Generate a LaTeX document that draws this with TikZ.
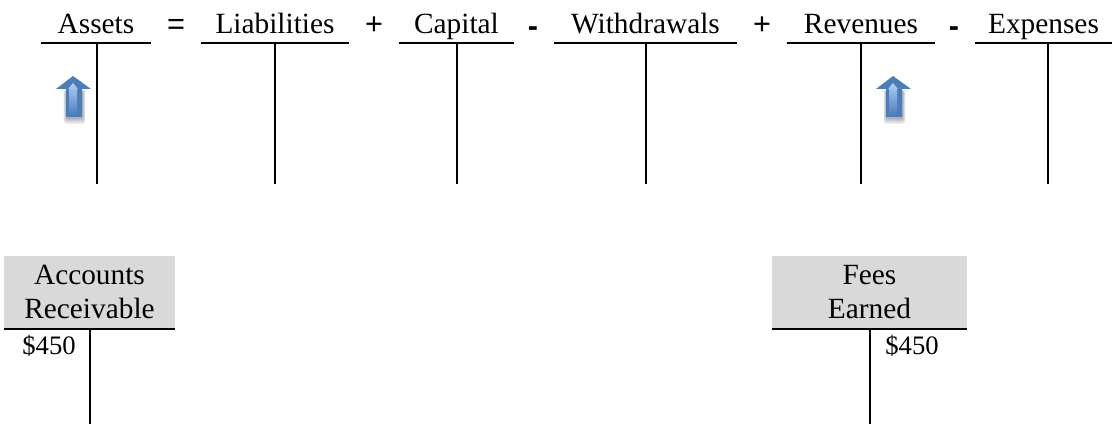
\documentclass[tikz,border=0pt]{standalone}
\usepackage{fontspec}
\setmainfont{Liberation Serif}
\newfontfamily\opfont{Liberation Sans}
\usetikzlibrary{arrows.meta, positioning, calc}
\definecolor{headgray}{HTML}{D9D9D9}
\definecolor{arrowblue}{HTML}{4A7EBB}
\definecolor{arrowlight}{HTML}{B4CDF0}
\newcommand{\incflag}[2]{%
  \foreach \g in {0,1,2,3,4} {
    \fill[black, opacity=.07, rounded corners=2] (#1-7-\g*.6,#2+14) rectangle (#1+10+\g*.6,#2+43+\g*1.2);
  }
  \fill[arrowblue] (#1,#2) -- (#1+18,#2+13) -- (#1+9,#2+13) -- (#1+9,#2+41) -- (#1-7,#2+41) -- (#1-7,#2+13) -- (#1-17,#2+13) -- cycle;
  \shade[top color=arrowlight, bottom color=arrowblue] (#1,#2+7) -- (#1+5,#2+13) -- (#1+4,#2+13) -- (#1+4,#2+39) -- (#1-4,#2+39) -- (#1-4,#2+13) -- (#1-5,#2+13) -- cycle;
}

\begin{document}
\begin{tikzpicture}[x=0.75pt, y=-0.75pt,
    title/.style={inner sep=0pt, anchor=south, text depth=6.75pt, font=\fontsize{22}{25.5}\selectfont, align=center},
    headbox/.style={inner sep=0pt, anchor=south, fill=headgray, minimum height=54.75pt, font=\fontsize{22}{25.5}\selectfont, align=center},
    amount/.style={inner sep=0pt, font=\fontsize{20}{24}\selectfont},
    opsign/.style={inner sep=0pt, font=\opfont\fontsize{23}{26}\selectfont},
    opminus/.style={inner sep=0pt, font=\opfont\bfseries\fontsize{23}{26}\selectfont},
    tbar/.style={line width=1.25pt, line cap=butt}
]
\useasboundingbox (0,0) rectangle (1112,424);
% top row of accounts
\node[title, minimum width=82.5pt] (assets) at (96,43) {Assets};
\node[title, minimum width=111pt] (liab) at (275,43) {Liabilities};
\node[title, minimum width=86.25pt] (capital) at (456.5,43) {Capital};
\node[title, minimum width=137.25pt] (withdr) at (645.5,43) {Withdrawals};
\node[title, minimum width=111pt] (rev) at (861,43) {Revenues};
\node[title, minimum width=102.75pt] (exp) at (1043.5,43) {Expenses};
\node[opsign] (eq) at (176,27) {=};
\node[opsign] (plusa) at (374,26) {+};
\node[opminus] (minusa) at (533,32) {-};
\node[opsign] (plusb) at (762,26) {+};
\node[opminus] (minusb) at (954,32) {-};
\coordinate (assetsend) at (97,184);
\coordinate (liabend) at (275,184);
\coordinate (capitalend) at (457,184);
\coordinate (withdrend) at (646,184);
\coordinate (revend) at (861,184);
\coordinate (expend) at (1048,184);
\draw[tbar] (assets.south west) -- (assets.south east);
\draw[tbar] (liab.south west) -- (liab.south east);
\draw[tbar] (capital.south west) -- (capital.south east);
\draw[tbar] (withdr.south west) -- (withdr.south east);
\draw[tbar] (rev.south west) -- (rev.south east);
\draw[tbar] (exp.south west) -- (exp.south east);
\draw[tbar] (assets.south -| assetsend) -- (assetsend);
\draw[tbar] (liab.south -| liabend) -- (liabend);
\draw[tbar] (capital.south -| capitalend) -- (capitalend);
\draw[tbar] (withdr.south -| withdrend) -- (withdrend);
\draw[tbar] (rev.south -| revend) -- (revend);
\draw[tbar] (exp.south -| expend) -- (expend);
% increase arrows
\incflag{73}{76}
\incflag{893}{76}
% lower accounts
\node[headbox, minimum width=128.25pt] (recv) at (89.5,329) {Accounts\\Receivable};
\node[headbox, minimum width=146.25pt] (fees) at (869.5,329) {Fees\\Earned};
\coordinate (recvend) at (90,424);
\coordinate (feesend) at (870,424);
\draw[tbar] (recv.south west) -- (recv.south east);
\draw[tbar] (fees.south west) -- (fees.south east);
\draw[tbar] (recv.south -| recvend) -- (recvend);
\draw[tbar] (fees.south -| feesend) -- (feesend);
\node[amount] (recvamt) at (49,346) {\$450};
\node[amount] (feesamt) at (912,346) {\$450};
\end{tikzpicture}
\end{document}
